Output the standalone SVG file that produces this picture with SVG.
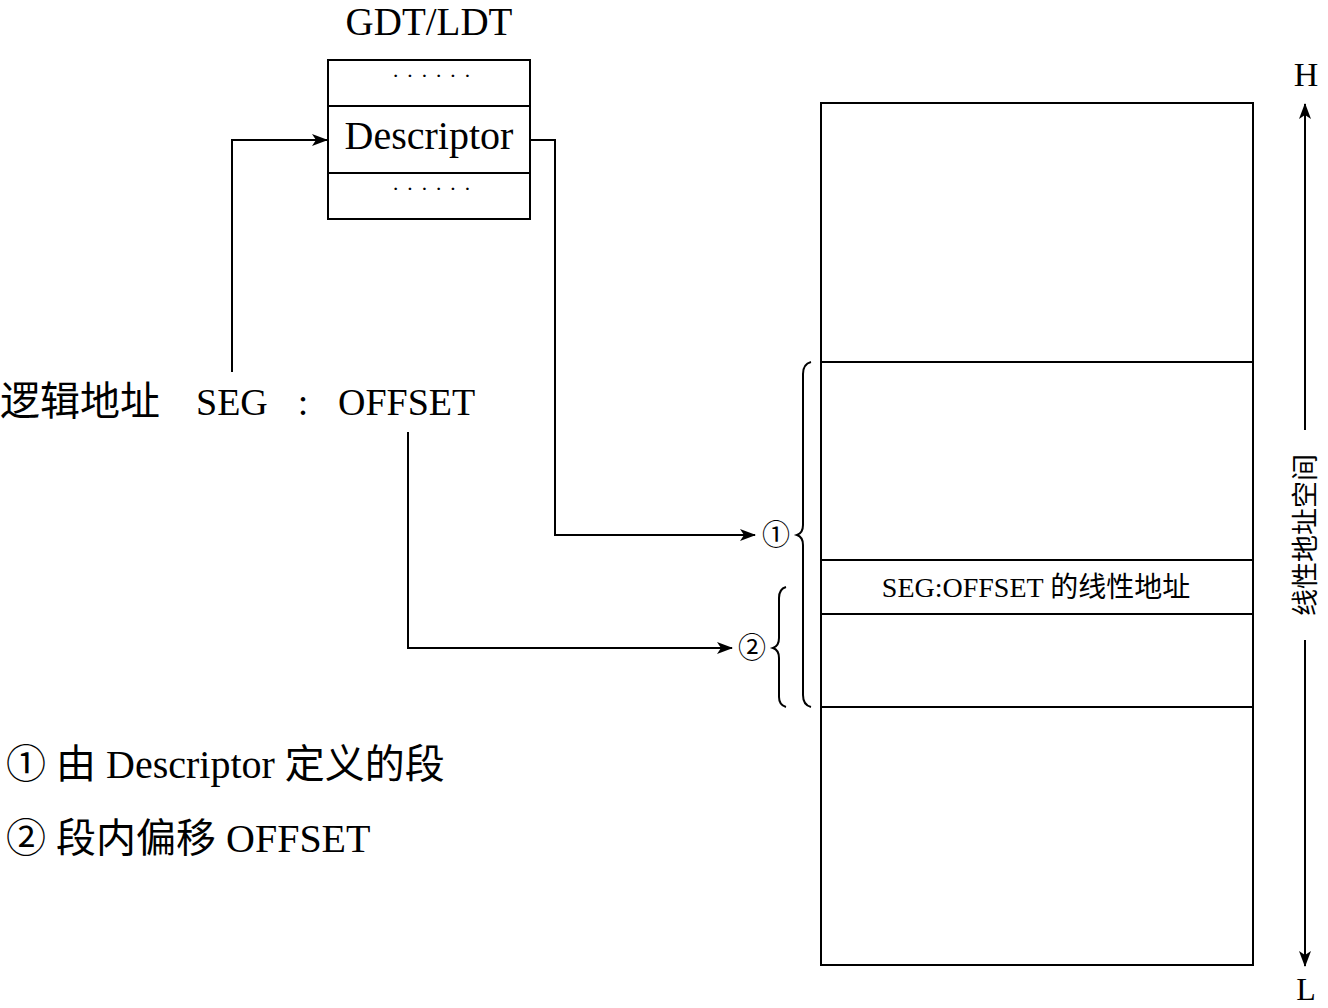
<svg xmlns="http://www.w3.org/2000/svg" width="1328" height="1008" viewBox="0 0 1328 1008">
<style>
.t{font-family:"Liberation Serif","Noto Sans CJK SC",serif;fill:#000}
.ln{fill:none;stroke:#000;stroke-width:2}
.bx{fill:#fff;stroke:#000;stroke-width:2}
.dots{font-family:"Liberation Serif",serif;font-size:22px;letter-spacing:7px}
</style>
<defs>
<marker id="ah" markerWidth="16" markerHeight="12" refX="15" refY="6" orient="auto" markerUnits="userSpaceOnUse">
<path d="M0,0 L16,6 L0,12 L4,6 Z" fill="#000"/>
</marker>
</defs>
<rect width="1328" height="1008" fill="#fff"/>
<g id="gdt">
<text class="t" x="429" y="35" font-size="39" text-anchor="middle">GDT/LDT</text>
<rect class="bx" x="328" y="60" width="202" height="159"/>
<line class="ln" x1="328" y1="106" x2="530" y2="106"/>
<line class="ln" x1="328" y1="173" x2="530" y2="173"/>
<text class="t dots" x="392" y="83">······</text>
<text class="t" x="429" y="149" font-size="40" text-anchor="middle">Descriptor</text>
<text class="t dots" x="392" y="196">······</text>
</g>
<g id="logical">
<text class="t" x="0" y="415" font-size="40">逻辑地址</text>
<text class="t" x="196" y="415" font-size="38">SEG</text>
<text class="t" x="303" y="415" font-size="38" text-anchor="middle">:</text>
<text class="t" x="338" y="415" font-size="38">OFFSET</text>
</g>
<g id="linear">
<rect class="bx" x="821" y="103" width="432" height="862"/>
<line class="ln" x1="821" y1="362" x2="1253" y2="362"/>
<line class="ln" x1="821" y1="560" x2="1253" y2="560"/>
<line class="ln" x1="821" y1="614" x2="1253" y2="614"/>
<line class="ln" x1="821" y1="707" x2="1253" y2="707"/>
<text class="t" x="1036" y="597" font-size="28" text-anchor="middle">SEG:OFFSET 的线性地址</text>
</g>
<g id="axis">
<text class="t" x="1306" y="86" font-size="34" text-anchor="middle">H</text>
<line class="ln" x1="1305" y1="430" x2="1305" y2="104" marker-end="url(#ah)"/>
<text class="t" x="0" y="0" font-size="27" text-anchor="middle" transform="translate(1315,535) rotate(-90)">线性地址空间</text>
<line class="ln" x1="1305" y1="640" x2="1305" y2="966" marker-end="url(#ah)"/>
<text class="t" x="1306" y="1000" font-size="32" text-anchor="middle">L</text>
</g>
<g id="brace1">
<path class="ln" d="M811,362 Q803,364 803,374 L803,525 Q803,533 797,535 Q803,537 803,545 L803,695 Q803,705 811,707"/>
<text class="t" x="776" y="545" font-size="28" text-anchor="middle">①</text>
</g>
<g id="brace2">
<path class="ln" d="M786,587 Q779,589 779,598 L779,638 Q779,646 773,648 Q779,650 779,658 L779,697 Q779,705 786,707"/>
<text class="t" x="752" y="658" font-size="28" text-anchor="middle">②</text>
</g>
<g id="legend">
<text class="t" x="6" y="778" font-size="40">① 由 Descriptor 定义的段</text>
<text class="t" x="6" y="852" font-size="40">② 段内偏移 OFFSET</text>
</g>
<g id="connectors">
<path class="ln" d="M232,372 L232,140 L327,140" marker-end="url(#ah)"/>
<path class="ln" d="M530,140 L555,140 L555,535 L755,535" marker-end="url(#ah)"/>
<path class="ln" d="M408,432 L408,648 L732,648" marker-end="url(#ah)"/>
</g>
</svg>
